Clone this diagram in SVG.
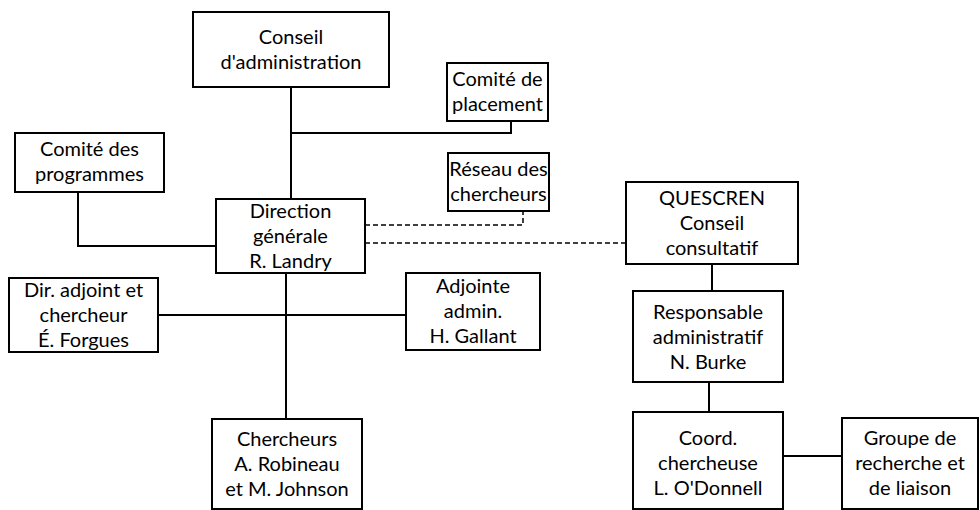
<svg xmlns="http://www.w3.org/2000/svg" width="980" height="510" viewBox="0 0 980 510">
<style>
.box{fill:#fff;stroke:#000;stroke-width:2}
.ln{fill:none;stroke:#000;stroke-width:2}
.dash{fill:none;stroke:#000;stroke-width:1.5;stroke-dasharray:5,3}
text{font-family:Lato,"Open Sans","Liberation Sans",sans-serif;font-size:20px;fill:#000;text-anchor:middle}
</style>
<rect width="980" height="510" fill="#fff"/>
<g id="connectors">
<path class="ln" d="M291 87V200"/>
<path class="ln" d="M291 133H511V121"/>
<path class="ln" d="M78 192V246H216"/>
<path class="ln" d="M286 273V419"/>
<path class="ln" d="M158 315H406"/>
<path class="ln" d="M712 264V291"/>
<path class="ln" d="M709 382V412"/>
<path class="ln" d="M783 456H842"/>
<path class="dash" d="M365 225H523V211"/>
<path class="dash" d="M365 243H626"/>
</g>
<g id="conseil">
<rect class="box" x="193" y="12" width="196" height="75"/>
<text x="291" y="44">Conseil</text>
<text x="291" y="69">d'administration</text>
</g>
<g id="placement">
<rect class="box" x="447" y="63" width="101" height="58"/>
<text x="497.5" y="86">Comité de</text>
<text x="497.5" y="111">placement</text>
</g>
<g id="programmes">
<rect class="box" x="15" y="133" width="149" height="59"/>
<text x="89.5" y="156">Comité des</text>
<text x="89.5" y="181">programmes</text>
</g>
<g id="reseau">
<rect class="box" x="448" y="153" width="101" height="58"/>
<text x="498.5" y="176">Réseau des</text>
<text x="498.5" y="201">chercheurs</text>
</g>
<g id="direction">
<rect class="box" x="216" y="199" width="149" height="74"/>
<text x="290.5" y="218">Direction</text>
<text x="290.5" y="243">générale</text>
<text x="290.5" y="268">R. Landry</text>
</g>
<g id="quescren">
<rect class="box" x="626" y="182" width="172" height="82"/>
<text x="712" y="205">QUESCREN</text>
<text x="712" y="230">Conseil</text>
<text x="712" y="255">consultatif</text>
</g>
<g id="diradjoint">
<rect class="box" x="9" y="278" width="149" height="74"/>
<text x="83.5" y="297">Dir. adjoint et</text>
<text x="83.5" y="322">chercheur</text>
<text x="83.5" y="347">É. Forgues</text>
</g>
<g id="adjointe">
<rect class="box" x="406" y="273" width="134" height="77"/>
<text x="473" y="293">Adjointe</text>
<text x="473" y="318">admin.</text>
<text x="473" y="343">H. Gallant</text>
</g>
<g id="responsable">
<rect class="box" x="633" y="291" width="150" height="91"/>
<text x="708" y="319">Responsable</text>
<text x="708" y="344">administratif</text>
<text x="708" y="369">N. Burke</text>
</g>
<g id="chercheurs">
<rect class="box" x="212" y="419" width="150" height="90"/>
<text x="287" y="446">Chercheurs</text>
<text x="287" y="471">A. Robineau</text>
<text x="287" y="496">et M. Johnson</text>
</g>
<g id="coord">
<rect class="box" x="633" y="412" width="150" height="97"/>
<text x="708" y="445">Coord.</text>
<text x="708" y="470">chercheuse</text>
<text x="708" y="495">L. O'Donnell</text>
</g>
<g id="groupe">
<rect class="box" x="842" y="418" width="136" height="91"/>
<text x="910" y="445">Groupe de</text>
<text x="910" y="470">recherche et</text>
<text x="910" y="495">de liaison</text>
</g>
</svg>
